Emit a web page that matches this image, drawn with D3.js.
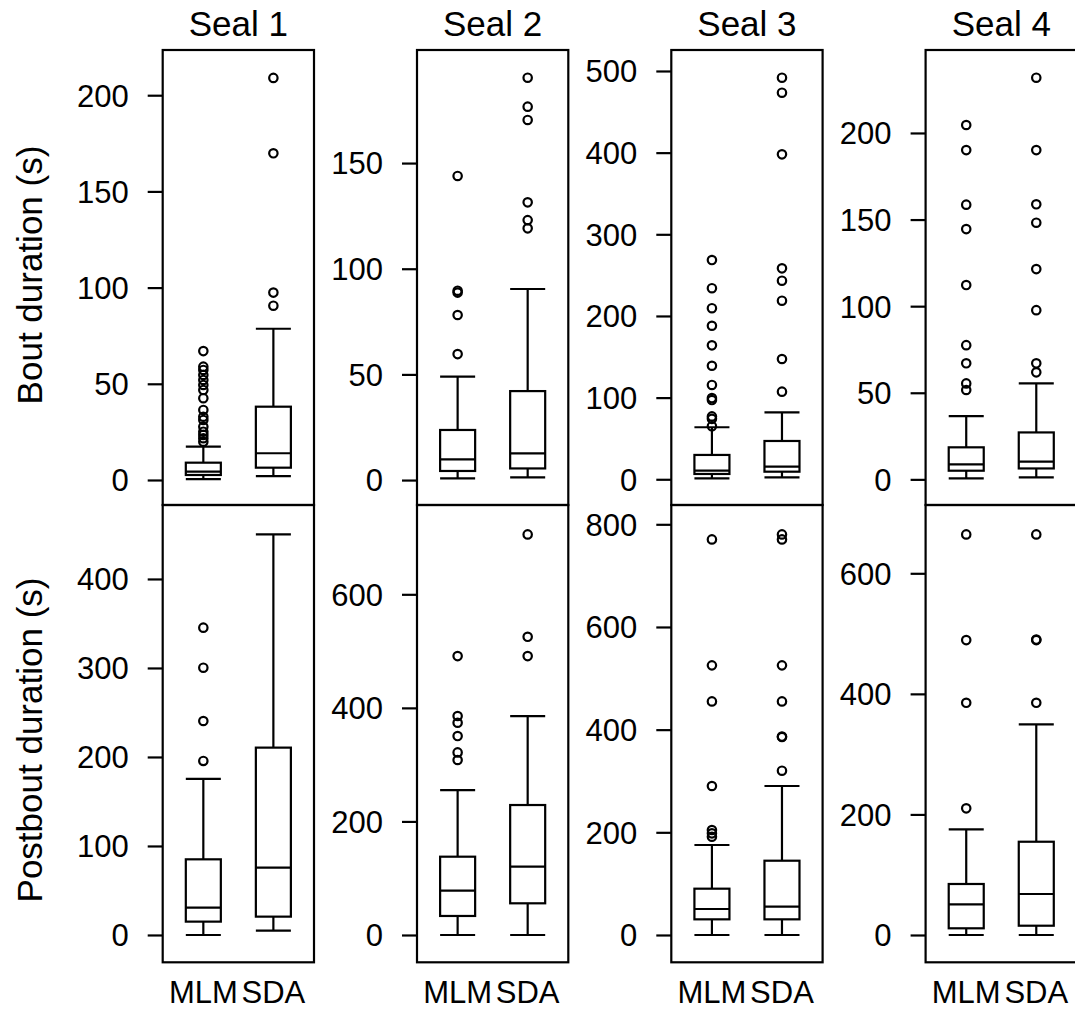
<!DOCTYPE html>
<html>
<head>
<meta charset="utf-8">
<script src="https://cdn.jsdelivr.net/npm/d3@7"></script>
<style>
  html, body { margin: 0; padding: 0; background: #fff; }
  svg { display: block; }
  text { font-family: "Liberation Sans", Arial, Helvetica, sans-serif; fill: #000; }
</style>
</head>
<body>
<script>
// ---------------- DATA ----------------
const seals = ["Seal 1", "Seal 2", "Seal 3", "Seal 4"];
const methods = ["MLM", "SDA"];
const rowTitles = ["Bout duration (s)", "Postbout duration (s)"];

// box stats: [lower whisker, Q1, median, Q3, upper whisker]
const boutStats = [
  [[0.4, 2.6, 4.3, 9, 17.3], [2, 6.4, 13.9, 38.1, 78.6]],
  [[0.8, 4.3, 9.8, 23.7, 48.9], [1.3, 5.5, 12.6, 42.1, 90.4]],
  [[1.2, 6.5, 10.5, 29.8, 63.7], [2.4, 9.3, 15.4, 46.9, 82]],
  [[0.6, 5, 8.7, 18.5, 36.5], [1.2, 6.3, 10.2, 27.1, 55.4]]
];
const boutOutliers = [
  [[19.9, 21.7, 23.4, 25.1, 27.7, 31.2, 32.9, 36.4, 42.5, 46.8, 49.4, 52, 54.6, 57.2, 58.9, 67],
   [90.6, 97.4, 169.8, 209]],
  [[59.6, 78.1, 88.7, 89.6, 143.9],
   [119.1, 123, 131.4, 170.4, 176.7, 190.4]],
  [[65, 74, 77, 97, 99.5, 115.5, 139, 164, 188, 209.5, 234, 268.5],
   [107.3, 147.3, 218.7, 243.2, 258.3, 397.9, 473.4, 491.8]],
  [[51.6, 55.4, 67, 77.5, 112.2, 144.5, 158.6, 190.1, 204.6],
   [61.8, 67, 97.7, 121.4, 148.2, 158.8, 190.1, 231.9]]
];
const postStats = [
  [[0, 15, 30.7, 85, 175.3], [4.9, 20.6, 75.6, 210.5, 450.2]],
  [[0, 33.5, 78, 137.9, 255.3], [0, 55.8, 120.3, 228.9, 385.6]],
  [[0, 30.5, 50.6, 90.2, 175.3], [0, 30.5, 55.2, 144.7, 290.2]],
  [[0, 11.1, 50.9, 84.6, 175.3], [0, 15.4, 68, 154.7, 349.4]]
];
const postOutliers = [
  [[195.5, 240.4, 300.3, 345.3], []],
  [[308.2, 321.6, 350.4, 373.8, 385.6, 491.2], [491.2, 525.2, 705.5]],
  [[191.5, 198, 204.5, 290.2, 455, 525.2, 770.6], [320, 385.6, 386.5, 455, 525.2, 770.6, 780.3]],
  [[210.1, 385.2, 489.2, 664.5], [385.2, 489.2, 490, 664.5]]
];
// axis limits and tick labels
const boutYlim = [[-13, 223.5], [-11.8, 203.5], [-31.5, 525.7], [-14.8, 247.9]];
const postYlim = [[-30.7, 483.1], [-48.1, 757.3], [-53.2, 837.6], [-45.3, 713.3]];
const boutTicks = [[0, 50, 100, 150, 200], [0, 50, 100, 150], [0, 100, 200, 300, 400, 500], [0, 50, 100, 150, 200]];
const postTicks = [[0, 100, 200, 300, 400], [0, 200, 400, 600], [0, 200, 400, 600, 800], [0, 200, 400, 600]];

// ---------------- LAYOUT ----------------
const W = 1075, H = 1011;
const panelLeft0 = 162.7, panelStep = 254.3, panelW = 151.3;
const rowTop = [50, 505], rowBottom = [505, 962.3];
const fontTick = 31, fontTitle = 35, fontYTitle = 35;

const svg = d3.select("body").append("svg").attr("width", W).attr("height", H);
svg.append("rect").attr("width", W).attr("height", H).attr("fill", "#fff");

const rows = [
  { stats: boutStats, out: boutOutliers, ylim: boutYlim, ticks: boutTicks },
  { stats: postStats, out: postOutliers, ylim: postYlim, ticks: postTicks }
];

seals.forEach((seal, si) => {
  const left = panelLeft0 + si * panelStep;
  const x = d3.scaleLinear().domain([0.42, 2.58]).range([left, left + panelW]);
  const halfW = (x(1.25) - x(1));

  // title
  svg.append("text")
    .attr("x", left + panelW / 2).attr("y", 35.5)
    .attr("text-anchor", "middle").attr("font-size", fontTitle)
    .text(seal);

  // x labels
  const xg = svg.append("g");
  methods.forEach((m, mi) => {
    xg.append("text").attr("x", x(mi + 1)).attr("y", 1003)
      .attr("text-anchor", "middle").attr("font-size", fontTick).text(m);
  });

  rows.forEach((row, ri) => {
    const y = d3.scaleLinear().domain(row.ylim[si]).range([rowBottom[ri], rowTop[ri]]);
    const g = svg.append("g");

    // y axis
    const axis = d3.axisLeft(y).tickValues(row.ticks[si]).tickSize(15).tickPadding(19).tickFormat(d3.format("d"));
    const ag = g.append("g").attr("transform", `translate(${left},0)`).call(axis);
    ag.select(".domain").remove();
    ag.selectAll(".tick line").attr("stroke", "#000").attr("stroke-width", 2.2);
    ag.selectAll(".tick text").attr("font-size", fontTick)
      .attr("font-family", '"Liberation Sans", Arial, sans-serif')
      .attr("fill", "#000").attr("x", -34).attr("dy", "0.35em");

    // boxes
    methods.forEach((m, mi) => {
      const s = row.stats[si][mi];
      const cx = x(mi + 1);
      const bg = g.append("g").attr("stroke", "#000").attr("stroke-width", 2.2).attr("fill", "none");
      // whiskers
      bg.append("line").attr("x1", cx).attr("x2", cx).attr("y1", y(s[0])).attr("y2", y(s[1]));
      bg.append("line").attr("x1", cx).attr("x2", cx).attr("y1", y(s[3])).attr("y2", y(s[4]));
      // staples
      [s[0], s[4]].forEach(v => {
        bg.append("line").attr("x1", cx - halfW).attr("x2", cx + halfW).attr("y1", y(v)).attr("y2", y(v));
      });
      // box
      bg.append("rect").attr("x", cx - halfW).attr("width", 2 * halfW)
        .attr("y", y(s[3])).attr("height", y(s[1]) - y(s[3])).attr("fill", "#fff");
      // median
      bg.append("line").attr("x1", cx - halfW).attr("x2", cx + halfW).attr("y1", y(s[2])).attr("y2", y(s[2]));
      // outliers
      bg.selectAll("circle.o").data(row.out[si][mi]).enter().append("circle")
        .attr("class", "o").attr("cx", cx).attr("cy", d => y(d)).attr("r", 4.2)
        .attr("stroke-width", 2.2);
    });

    // frame
    g.append("rect").attr("x", left).attr("y", rowTop[ri])
      .attr("width", panelW).attr("height", rowBottom[ri] - rowTop[ri])
      .attr("fill", "none").attr("stroke", "#000").attr("stroke-width", 2.2);
  });
});

// row titles
const rowCenters = [275, 740];
rowTitles.forEach((t, i) => {
  svg.append("text")
    .attr("transform", `translate(42,${rowCenters[i]}) rotate(-90)`)
    .attr("text-anchor", "middle").attr("font-size", fontYTitle)
    .text(t);
});
</script>
</body>
</html>
